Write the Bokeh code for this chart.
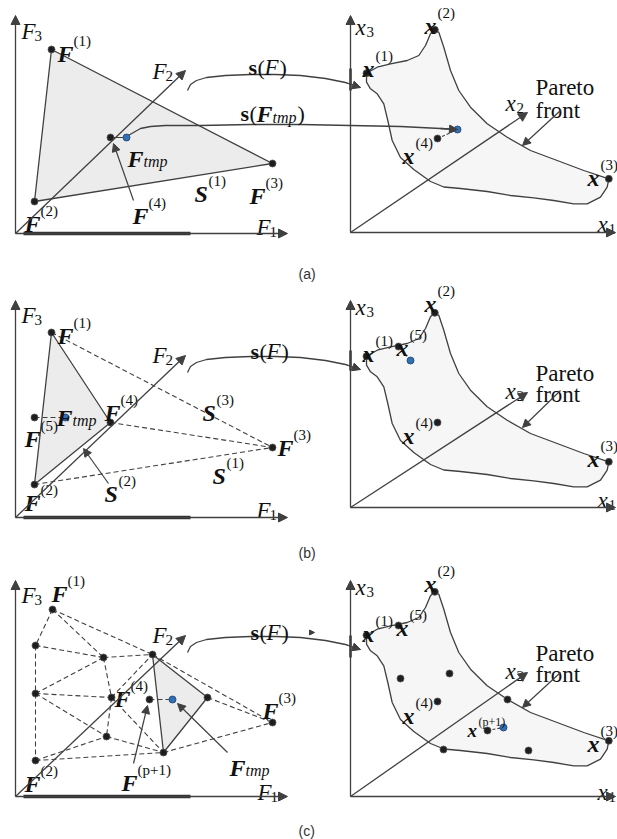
from bokeh.plotting import figure
from bokeh.models import Range1d, Arrow, NormalHead
from bokeh.core.properties import value
from bokeh.embed import file_html
from bokeh.resources import INLINE

# ---------------- diagram data (image pixel coordinates) ----------------
# left (objective-space) axes of panels a, b, c
LEFT_AXIS_X = 15
LEFT_ORIGIN_Y = [233, 517, 796]
LEFT_TOP_Y = [15, 300, 580]
LEFT_F1_TIP_X = 287
LEFT_F2_TIP = [(185, 70), (185, 355), (185, 635)]
LEFT_THICK_X = (23, 190)

# right (decision-space) axes
RIGHT_AXIS_X = 350
RIGHT_ORIGIN_Y = [232, 507, 796]
RIGHT_TOP_Y = [15, 300, 580]
RIGHT_X1_TIP_X = 615
RIGHT_X2_TIP = [(527, 112), (527, 392), (527, 672)]
RIGHT_THICK_Y = [(68, 90), (350, 370), (635, 657)]

# Pareto-front outline (panel a frame) and per-panel vertical offsets
SHAPE_X = [366.0, 376.7, 390.0, 406.7, 418.3, 425.0, 430.0, 434.3, 438.3, 443.3, 450.0, 458.3,
           470.0, 486.7, 506.7, 530.0, 556.7, 583.3, 608.3, 606.7, 600.0, 586.7, 573.3, 553.3,
           533.3, 510.0, 486.7, 460.0, 443.3, 430.0, 413.3, 400.0, 391.7, 387.3, 383.3, 376.7,
           370.0, 366.0]
SHAPE_Y = [72.7, 66.7, 63.3, 60.0, 55.0, 45.0, 33.3, 29.3, 31.7, 46.7, 70.0, 90.0,
           106.7, 123.3, 136.7, 150.0, 160.0, 170.0, 178.3, 186.7, 196.7, 203.3, 203.3, 200.0,
           197.3, 195.0, 191.0, 188.0, 186.5, 181.0, 169.0, 157.0, 140.0, 120.0, 103.3, 93.3,
           88.3, 81.7]
SHAPE_DY = [0, 283, 562]

# solution points inside/on the Pareto front (panel a frame), per panel
RIGHT_PTS_X = [[366.0, 434.3, 608.3, 437],
               [366.0, 434.3, 608.3, 398, 437],
               [366.0, 434.3, 608.3, 398, 437, 400, 449, 507, 443, 528, 487]]
RIGHT_PTS_Y = [[72.7, 29.3, 178.3, 138],
               [72.7, 29.3, 178.3, 63, 139],
               [72.7, 29.3, 178.3, 63, 139, 116, 111, 137, 187, 188, 168]]
RIGHT_BLUE = [(457, 129), (410, 77), (503, 165)]
RIGHT_LINK_FROM = [(437, 138), (398, 63), (487, 168)]

# panel (a) left
A_X = {"F1": 51, "F2": 34, "F3": 272, "F4": 110}
A_Y = {"F1": 49, "F2": 201, "F3": 163, "F4": 137}
A_TMP = (126, 137)

# panel (b) left
B_X = {"F1": 51, "F2": 34, "F3": 272, "F4": 110, "F5": 34}
B_Y = {"F1": 332, "F2": 484, "F3": 447, "F4": 422, "F5": 417}
B_TMP = (65, 417)
B_DASHED = [("F1", "F3"), ("F4", "F3"), ("F2", "F3")]

# panel (c) left
C_X = {"F1": 52, "A": 35, "B": 103, "C": 152, "D": 35, "F4": 111, "E": 149, "G": 207,
       "F3": 272, "H": 106, "I": 163, "F2": 35}
C_Y = {"F1": 609, "A": 645, "B": 657, "C": 654, "D": 693, "F4": 697, "E": 699, "G": 697,
       "F3": 722, "H": 736, "I": 752, "F2": 760}
C_TMP = (172, 699)
C_DASHED = [("F1", "A"), ("F1", "B"), ("F1", "C"), ("A", "B"), ("B", "C"), ("A", "D"),
            ("D", "F2"), ("D", "B"), ("D", "F4"), ("D", "H"), ("B", "F4"), ("F4", "C"),
            ("F4", "H"), ("F4", "I"), ("H", "I"), ("F2", "H"), ("F2", "I"), ("C", "F3"),
            ("G", "F3"), ("I", "F3")]
C_TRI = ["C", "G", "I"]

# mapping curves s(F)
SF_X = [187, 190, 196, 206, 225, 250, 275, 300, 325, 345, 360]
SF_Y = [90, 84, 80, 77, 75, 74, 74, 75, 78, 82, 87]
SF_DY = [0, 282, 562]
STMP_X = [126, 133, 140, 150, 165, 200, 250, 300, 350, 400, 440, 457]
STMP_Y = [136, 132, 128, 126, 125, 125, 124, 124, 125, 126, 128, 129]

# pointer arrows (start -> end)
POINTERS = [((133, 200), (113, 143)),     # F(4) in a
            ((108, 483), (83, 448)),      # S(2) in b
            ((133, 763), (147, 705)),     # F(p+1) in c
            ((227, 752), (177, 703)),     # F_tmp in c
            ((560, 110), (522, 145)),     # Pareto front a
            ((560, 390), (522, 427)),     # Pareto front b
            ((560, 672), (522, 707))]     # Pareto front c

# labels: base letter with superscript  (base, sup, x, y-baseline)
SUP_LABELS = [("F", "(1)", 57, 53), ("F", "(2)", 24, 223), ("F", "(3)", 249, 195),
              ("F", "(4)", 132, 215), ("S", "(1)", 194, 193),
              ("x", "(1)", 362, 68), ("x", "(2)", 424, 25), ("x", "(3)", 587, 177),
              ("x", "(4)", 402, 155),
              ("F", "(1)", 57, 335), ("F", "(4)", 104, 412), ("F", "(5)", 24, 438),
              ("F", "(3)", 277, 447), ("F", "(2)", 24, 502), ("S", "(3)", 202, 412),
              ("S", "(1)", 212, 475), ("S", "(2)", 104, 493),
              ("x", "(1)", 362, 353), ("x", "(5)", 396, 347), ("x", "(2)", 424, 303),
              ("x", "(4)", 402, 435), ("x", "(3)", 587, 458),
              ("F", "(1)", 51, 593), ("F", "(4)", 114, 698), ("F", "(3)", 262, 710),
              ("F", "(2)", 24, 783), ("F", "(p+1)", 121, 782),
              ("x", "(1)", 362, 633), ("x", "(5)", 396, 627), ("x", "(2)", 424, 583),
              ("x", "(4)", 402, 715), ("x", "(3)", 587, 743)]
SMALL_SUP_LABELS = [("x", "(p+1)", 467, 730)]
TMP_LABELS = [(127, 158), (56, 417), (229, 767)]
AXIS_LABELS = [("F", "3", 21, 31), ("F", "2", 152, 71), ("F", "1", 256, 227),
               ("x", "3", 355, 27), ("x", "2", 505, 103), ("x", "1", 597, 224),
               ("F", "3", 21, 315), ("F", "2", 152, 355), ("F", "1", 256, 510),
               ("x", "3", 355, 307), ("x", "2", 505, 391), ("x", "1", 597, 500),
               ("F", "3", 21, 595), ("F", "2", 152, 635), ("F", "1", 257, 792),
               ("x", "3", 355, 587), ("x", "2", 505, 671), ("x", "1", 597, 792)]
SF_LABELS = [(248, 67), (250, 351), (250, 632)]
STMP_LABEL = (240, 113)
PARETO_LABELS = [(535, 87, 110), (535, 373, 394), (535, 653, 674)]
CAPTIONS = [("(a)", 298, 273), ("(b)", 298, 552), ("(c)", 298, 830)]

# ---------------- styles ----------------
LINE = "#404040"
DOT = "#1e1e1e"
BLUE = "#2f70b8"
TXT = "#111111"
TRI_FILL = "#ececec"
SHAPE_FILL = "#f6f6f6"
SERIF = "Liberation Serif"

p = figure(width=617, height=839, x_range=Range1d(0, 617), y_range=Range1d(839, 0),
           output_backend="svg", toolbar_location=None, min_border=0,
           x_axis_location=None, y_axis_location=None)
p.grid.visible = False
p.outline_line_color = None
p.background_fill_color = "white"


def arrow(x0, y0, x1, y1, size=9, lw=1.3):
    p.add_layout(Arrow(end=NormalHead(size=size, fill_color=LINE, line_color=LINE, line_width=1),
                       x_start=x0, y_start=y0, x_end=x1, y_end=y1,
                       line_color=LINE, line_width=lw))


def seg(a, b, dash="solid", lw=1.3):
    p.line([a[0], b[0]], [a[1], b[1]], line_color=LINE, line_width=lw, line_dash=dash)


DASH = "5 3"

# ----- fills first -----
p.patch([A_X[k] for k in ("F1", "F2", "F3")], [A_Y[k] for k in ("F1", "F2", "F3")],
        fill_color=TRI_FILL, line_color=LINE, line_width=1.3)
p.patch([B_X[k] for k in ("F1", "F2", "F4")], [B_Y[k] for k in ("F1", "F2", "F4")],
        fill_color=TRI_FILL, line_color=LINE, line_width=1.3)
p.patch([C_X[k] for k in C_TRI], [C_Y[k] for k in C_TRI],
        fill_color=TRI_FILL, line_color=LINE, line_width=1.3)
for dy in SHAPE_DY:
    p.patch(SHAPE_X, [y + dy for y in SHAPE_Y], fill_color=SHAPE_FILL,
            line_color=LINE, line_width=1.3)

# ----- axes -----
for i in range(3):
    oy = LEFT_ORIGIN_Y[i]
    arrow(LEFT_AXIS_X, oy, LEFT_AXIS_X, LEFT_TOP_Y[i], size=9)
    arrow(LEFT_AXIS_X, oy, LEFT_F1_TIP_X, oy, size=9)
    arrow(LEFT_AXIS_X, oy, LEFT_F2_TIP[i][0], LEFT_F2_TIP[i][1], size=9)
    p.line(list(LEFT_THICK_X), [oy, oy], line_color="#333333", line_width=3.5)
    ry = RIGHT_ORIGIN_Y[i]
    arrow(RIGHT_AXIS_X, ry, RIGHT_AXIS_X, RIGHT_TOP_Y[i], size=9)
    arrow(RIGHT_AXIS_X, ry, RIGHT_X1_TIP_X, ry, size=9)
    arrow(RIGHT_AXIS_X, ry, RIGHT_X2_TIP[i][0], RIGHT_X2_TIP[i][1], size=9)
    p.line([RIGHT_AXIS_X, RIGHT_AXIS_X], list(RIGHT_THICK_Y[i]), line_color="#333333",
           line_width=2.5)

# ----- panel b / c dashed networks -----
for a, b in B_DASHED:
    seg((B_X[a], B_Y[a]), (B_X[b], B_Y[b]), DASH, 1.1)
seg((B_X["F5"], B_Y["F5"]), B_TMP, DASH, 1.1)
for a, b in C_DASHED:
    seg((C_X[a], C_Y[a]), (C_X[b], C_Y[b]), DASH, 1.1)
seg((C_X["E"], C_Y["E"]), C_TMP, DASH, 1.1)
seg((A_X["F4"], A_Y["F4"]), A_TMP, "solid", 1.1)

# right-panel dashed links to blue points
for i in range(3):
    fx, fy = RIGHT_LINK_FROM[i]
    bx, by = RIGHT_BLUE[i]
    seg((fx, fy + SHAPE_DY[i]), (bx, by + SHAPE_DY[i]), "3 2", 1.1)

# ----- mapping curves -----
for dy in SF_DY:
    ys = [y + dy for y in SF_Y]
    p.line(SF_X, ys, line_color=LINE, line_width=1.3)
    arrow(SF_X[-2], ys[-2], SF_X[-1], ys[-1], size=8)
p.line(STMP_X, STMP_Y, line_color=LINE, line_width=1.3)
arrow(STMP_X[-2], STMP_Y[-2], STMP_X[-1], STMP_Y[-1], size=8)
arrow(309, 632, 314, 632, size=5, lw=0.8)

for (x0, y0), (x1, y1) in POINTERS:
    arrow(x0, y0, x1, y1, size=8, lw=1.2)

# ----- points -----
px = list(A_X.values()) + list(B_X.values()) + list(C_X.values())
py = list(A_Y.values()) + list(B_Y.values()) + list(C_Y.values())
for i in range(3):
    px += RIGHT_PTS_X[i]
    py += [y + SHAPE_DY[i] for y in RIGHT_PTS_Y[i]]
p.scatter(px, py, size=7, fill_color=DOT, line_color="#555555", line_width=0.8)
bxs = [A_TMP[0], B_TMP[0], C_TMP[0]] + [b[0] for b in RIGHT_BLUE]
bys = [A_TMP[1], B_TMP[1], C_TMP[1]] + [b[1] + SHAPE_DY[i] for i, b in enumerate(RIGHT_BLUE)]
p.scatter(bxs, bys, size=7, fill_color=BLUE, line_color="#1f3f66", line_width=0.8)

# ----- texts -----
STYLE = {
    "bi": (SERIF, "bold italic", "24px"),
    "biS": (SERIF, "bold italic", "19px"),
    "sup": (SERIF, "normal", "15px"),
    "supS": (SERIF, "normal", "12px"),
    "it": (SERIF, "italic", "23px"),
    "sub": (SERIF, "normal", "15px"),
    "isub": (SERIF, "italic", "16px"),
    "bold": (SERIF, "bold", "22px"),
    "reg": (SERIF, "normal", "22px"),
    "par": (SERIF, "normal", "23px"),
    "cap": ("Liberation Sans", "normal", "14px"),
}
texts = {k: {"x": [], "y": [], "t": []} for k in STYLE}


def add(style, x, y, t):
    texts[style]["x"].append(x)
    texts[style]["y"].append(y)
    texts[style]["t"].append(t)


SUP_DX = {"F": 16, "S": 14, "x": 13}
for base, sup, x, y in SUP_LABELS:
    add("bi", x, y, base)
    add("sup", x + SUP_DX[base], y - 13, sup)
for base, sup, x, y in SMALL_SUP_LABELS:
    add("biS", x, y, base)
    add("supS", x + 11, y - 9, sup)
for x, y in TMP_LABELS:
    add("bi", x, y, "F")
    add("isub", x + 16, y + 3, "tmp")
SUB_DX = {"F": 13, "x": 11}
for base, sub, x, y in AXIS_LABELS:
    add("it", x, y, base)
    add("sub", x + SUB_DX[base], y + 4, sub)
for x, y in SF_LABELS:
    add("bold", x, y, "s")
    add("reg", x + 9, y, "(")
    add("it", x + 16, y, "F")
    add("reg", x + 31, y, ")")
sx, sy = STMP_LABEL
add("bold", sx, sy, "s")
add("reg", sx + 9, sy, "(")
add("bi", sx + 16, sy, "F")
add("isub", sx + 32, sy + 4, "tmp")
add("reg", sx + 57, sy, ")")
for x, y1, y2 in PARETO_LABELS:
    add("par", x, y1, "Pareto")
    add("par", x, y2, "front")
for t, x, y in CAPTIONS:
    add("cap", x, y, t)

for k, d in texts.items():
    if not d["t"]:
        continue
    font, fstyle, fsize = STYLE[k]
    p.text(x=d["x"], y=d["y"], text=d["t"], text_font=value(font), text_font_style=fstyle,
           text_font_size=fsize, text_baseline="alphabetic", text_align="left",
           text_color=TXT if k != "cap" else "#333333")

open("out.html", "w").write(file_html(p, INLINE))
